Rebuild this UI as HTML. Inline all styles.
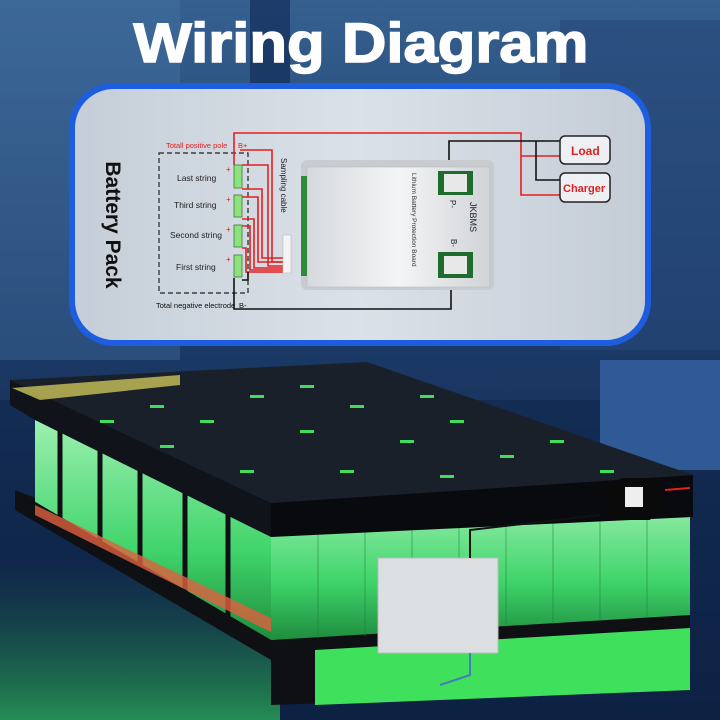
<!DOCTYPE html>
<html><head><meta charset="utf-8"><style>
html,body{margin:0;padding:0;background:#0b1d3a}
svg{display:block}
text{font-family:"Liberation Sans",Arial,sans-serif}
</style></head><body>
<svg width="720" height="720" viewBox="0 0 720 720" xmlns="http://www.w3.org/2000/svg">
<defs>
<linearGradient id="bg" x1="0" y1="0" x2="0" y2="1">
<stop offset="0" stop-color="#35608f"/><stop offset="0.45" stop-color="#1c3b68"/><stop offset="1" stop-color="#0c1e3e"/>
</linearGradient>
<linearGradient id="panel" x1="0" y1="0" x2="1" y2="0">
<stop offset="0" stop-color="#c5ced8"/><stop offset="0.5" stop-color="#dbe1e8"/><stop offset="1" stop-color="#c4ccd6"/>
</linearGradient>
<linearGradient id="cells" x1="0" y1="0" x2="0" y2="1">
<stop offset="0" stop-color="#9cf0b0"/><stop offset="0.6" stop-color="#3fd46a"/><stop offset="1" stop-color="#1f8c3e"/>
</linearGradient>
<linearGradient id="board" x1="0" y1="0" x2="1" y2="0">
<stop offset="0" stop-color="#d6d9dd"/><stop offset="0.5" stop-color="#f4f5f6"/><stop offset="1" stop-color="#d0d3d7"/>
</linearGradient>
<linearGradient id="glow" x1="0" y1="0" x2="0" y2="1">
<stop offset="0" stop-color="#1d6a4a" stop-opacity="0"/><stop offset="1" stop-color="#2aa858" stop-opacity="0.8"/>
</linearGradient>
</defs>
<rect width="720" height="720" fill="url(#bg)"/>
<rect x="0" y="0" width="180" height="360" fill="#4a78a8" opacity="0.35"/>
<rect x="560" y="20" width="160" height="330" fill="#27487a" opacity="0.6"/>
<rect x="250" y="0" width="40" height="90" fill="#0f2550" opacity="0.6"/>
<rect x="0" y="400" width="720" height="320" fill="#0d2348" opacity="0.5"/>
<rect x="600" y="360" width="120" height="110" fill="#2f5a95"/>
<rect x="0" y="560" width="280" height="160" fill="url(#glow)"/>

<text x="361" y="62" text-anchor="middle" font-size="56" font-weight="bold" fill="#fff" stroke="#fff" stroke-width="1.5" textLength="455" lengthAdjust="spacingAndGlyphs">Wiring Diagram</text>

<!-- panel -->
<rect x="72" y="86" width="576" height="257" rx="42" fill="url(#panel)" stroke="#1d5ee0" stroke-width="6"/>
<text transform="translate(106,225) rotate(90)" text-anchor="middle" font-size="21" font-weight="bold" fill="#111">Battery Pack</text>

<rect x="159" y="153" width="89" height="140" fill="none" stroke="#222" stroke-width="1.2" stroke-dasharray="5,3"/>
<g font-size="8.5" fill="#222">
<text x="177" y="181">Last string</text>
<text x="174" y="208">Third string</text>
<text x="170" y="238">Second string</text>
<text x="176" y="270">First string</text>
</g>
<text x="166" y="148" font-size="7.5" fill="#e02020">Totall positive pole</text>
<text x="238" y="148" font-size="7.5" fill="#e02020">B+</text>
<text x="156" y="308" font-size="7.5" fill="#111">Total negative electrode</text>
<text x="239" y="308" font-size="7.5" fill="#111">B-</text>
<text transform="translate(281,158) rotate(90)" font-size="8" fill="#222">Sampling cable</text>

<g fill="none" stroke="#e62020" stroke-width="1.6">
<polyline points="234,165 234,133 521,133 521,195 560,195"/>
<line x1="521" y1="156" x2="560" y2="156"/>
<polyline points="240,150 272,150 272,262 283,262"/>
<polyline points="242,165 268,165 268,266 283,266"/>
<polyline points="242,189 262,189 262,258 283,258"/>
<polyline points="242,197 258,197 258,262 283,262"/>
<polyline points="242,219 254,219 254,268 283,268"/>
<polyline points="242,226 250,226 250,270 283,270"/>
<polyline points="242,248 246,248 246,272 283,272"/>
</g>
<g fill="none" stroke="#111" stroke-width="1.6">
<polyline points="449,171 449,141 560,141"/>
<polyline points="536,141 536,180 560,180"/>
<polyline points="451,278 451,309 234,309 234,278"/>
<polyline points="242,280 248,280 248,272"/>
</g>
<g fill="#8ee27e" stroke="#3b7a33" stroke-width="0.8">
<rect x="234" y="165" width="8" height="23"/>
<rect x="234" y="195" width="8" height="22"/>
<rect x="234" y="225" width="8" height="22"/>
<rect x="234" y="255" width="8" height="22"/>
</g>
<g font-size="8" fill="#e02020"><text x="226" y="172">+</text><text x="226" y="202">+</text><text x="226" y="232">+</text><text x="226" y="262">+</text></g>
<rect x="283" y="235" width="8" height="38" fill="#f4f4f4" stroke="#bbb" stroke-width="0.6"/>

<rect x="301" y="160" width="193" height="130" rx="6" fill="#c8ccd0"/>
<rect x="307" y="167" width="183" height="120" fill="url(#board)" stroke="#b8bcc0" stroke-width="0.6"/>
<rect x="301" y="176" width="6" height="100" fill="#2f8a3a"/>
<rect x="438" y="171" width="35" height="24" fill="#1f6d2c"/>
<rect x="444" y="174" width="23" height="18" fill="#e8e8e8"/>
<rect x="438" y="252" width="35" height="26" fill="#1f6d2c"/>
<rect x="444" y="256" width="23" height="18" fill="#e8e8e8"/>
<text transform="translate(412,173) rotate(90)" font-size="6.5" fill="#333">Lithium Battery Protection Board</text>
<text transform="translate(470,202) rotate(90)" font-size="9" fill="#222">JKBMS</text>
<text transform="translate(450,200) rotate(90)" font-size="8" fill="#222">P-</text>
<text transform="translate(451,239) rotate(90)" font-size="8" fill="#222">B-</text>

<rect x="560" y="136" width="50" height="28" rx="5" fill="#eef0f3" stroke="#222" stroke-width="1.5"/>
<text x="571" y="155" font-size="12" font-weight="bold" fill="#e02020">Load</text>
<rect x="560" y="173" width="50" height="29" rx="5" fill="#eef0f3" stroke="#222" stroke-width="1.5"/>
<text x="563" y="192" font-size="11" font-weight="bold" fill="#e02020">Charger</text>

<!-- battery pack -->
<polygon points="15,490 271,640 271,705 690,690 690,615 271,640 40,500" fill="#0e1014"/>
<polygon points="315,650 690,628 690,690 315,705" fill="#3ee05c"/>
<polygon points="35,420 271,520 271,640 35,520" fill="url(#cells)"/>
<g stroke="#0e1014" stroke-width="5">
<line x1="60" y1="430" x2="60" y2="530"/><line x1="100" y1="447" x2="100" y2="553"/><line x1="140" y1="464" x2="140" y2="576"/><line x1="185" y1="483" x2="185" y2="598"/><line x1="228" y1="502" x2="228" y2="620"/>
</g>
<polygon points="15,490 271,640 271,660 15,510" fill="#0e1014"/>
<polygon points="271,520 690,495 690,615 271,640" fill="url(#cells)"/>
<g stroke="#1a7a36" stroke-width="1" opacity="0.5">
<line x1="318" y1="520" x2="318" y2="638"/><line x1="365" y1="518" x2="365" y2="636"/><line x1="412" y1="515" x2="412" y2="633"/><line x1="459" y1="512" x2="459" y2="630"/><line x1="506" y1="510" x2="506" y2="627"/><line x1="553" y1="507" x2="553" y2="624"/><line x1="600" y1="504" x2="600" y2="621"/><line x1="647" y1="501" x2="647" y2="618"/>
</g>
<polygon points="35,505 271,618 271,632 35,515" fill="#e06040" opacity="0.8"/>
<polygon points="10,380 367,362 693,475 271,503" fill="#1a2029"/>
<polygon points="271,503 693,475 693,517 271,537" fill="#080a0e"/>
<polygon points="10,380 271,503 271,537 35,420 10,405" fill="#10141a"/>
<polygon points="12,388 180,375 180,385 40,400" fill="#c9c35a" opacity="0.8"/>
<g fill="#3fdc5e">
<rect x="200" y="420" width="14" height="3"/><rect x="300" y="430" width="14" height="3"/><rect x="400" y="440" width="14" height="3"/><rect x="500" y="455" width="14" height="3"/><rect x="600" y="470" width="14" height="3"/>
<rect x="250" y="395" width="14" height="3"/><rect x="350" y="405" width="14" height="3"/><rect x="450" y="420" width="14" height="3"/><rect x="550" y="440" width="14" height="3"/>
<rect x="150" y="405" width="14" height="3"/><rect x="300" y="385" width="14" height="3"/><rect x="420" y="395" width="14" height="3"/>
<rect x="100" y="420" width="14" height="3"/><rect x="160" y="445" width="14" height="3"/><rect x="240" y="470" width="14" height="3"/><rect x="340" y="470" width="14" height="3"/><rect x="440" y="475" width="14" height="3"/>
</g>
<polygon points="600,490 622,478 650,478 665,495 650,520 610,520" fill="#0a0a0a"/>
<rect x="625" y="487" width="18" height="20" fill="#eee"/>
<polyline points="665,490 690,488" stroke="#e02020" stroke-width="2" fill="none"/>
<rect x="378" y="558" width="120" height="95" fill="#dcdfe2" stroke="#bbb"/>
<polyline points="470,558 470,530 600,515" stroke="#111" stroke-width="2" fill="none"/>
<polyline points="470,653 470,675 440,685" stroke="#4a7ac0" stroke-width="2" fill="none"/>
</svg>
</body></html>
